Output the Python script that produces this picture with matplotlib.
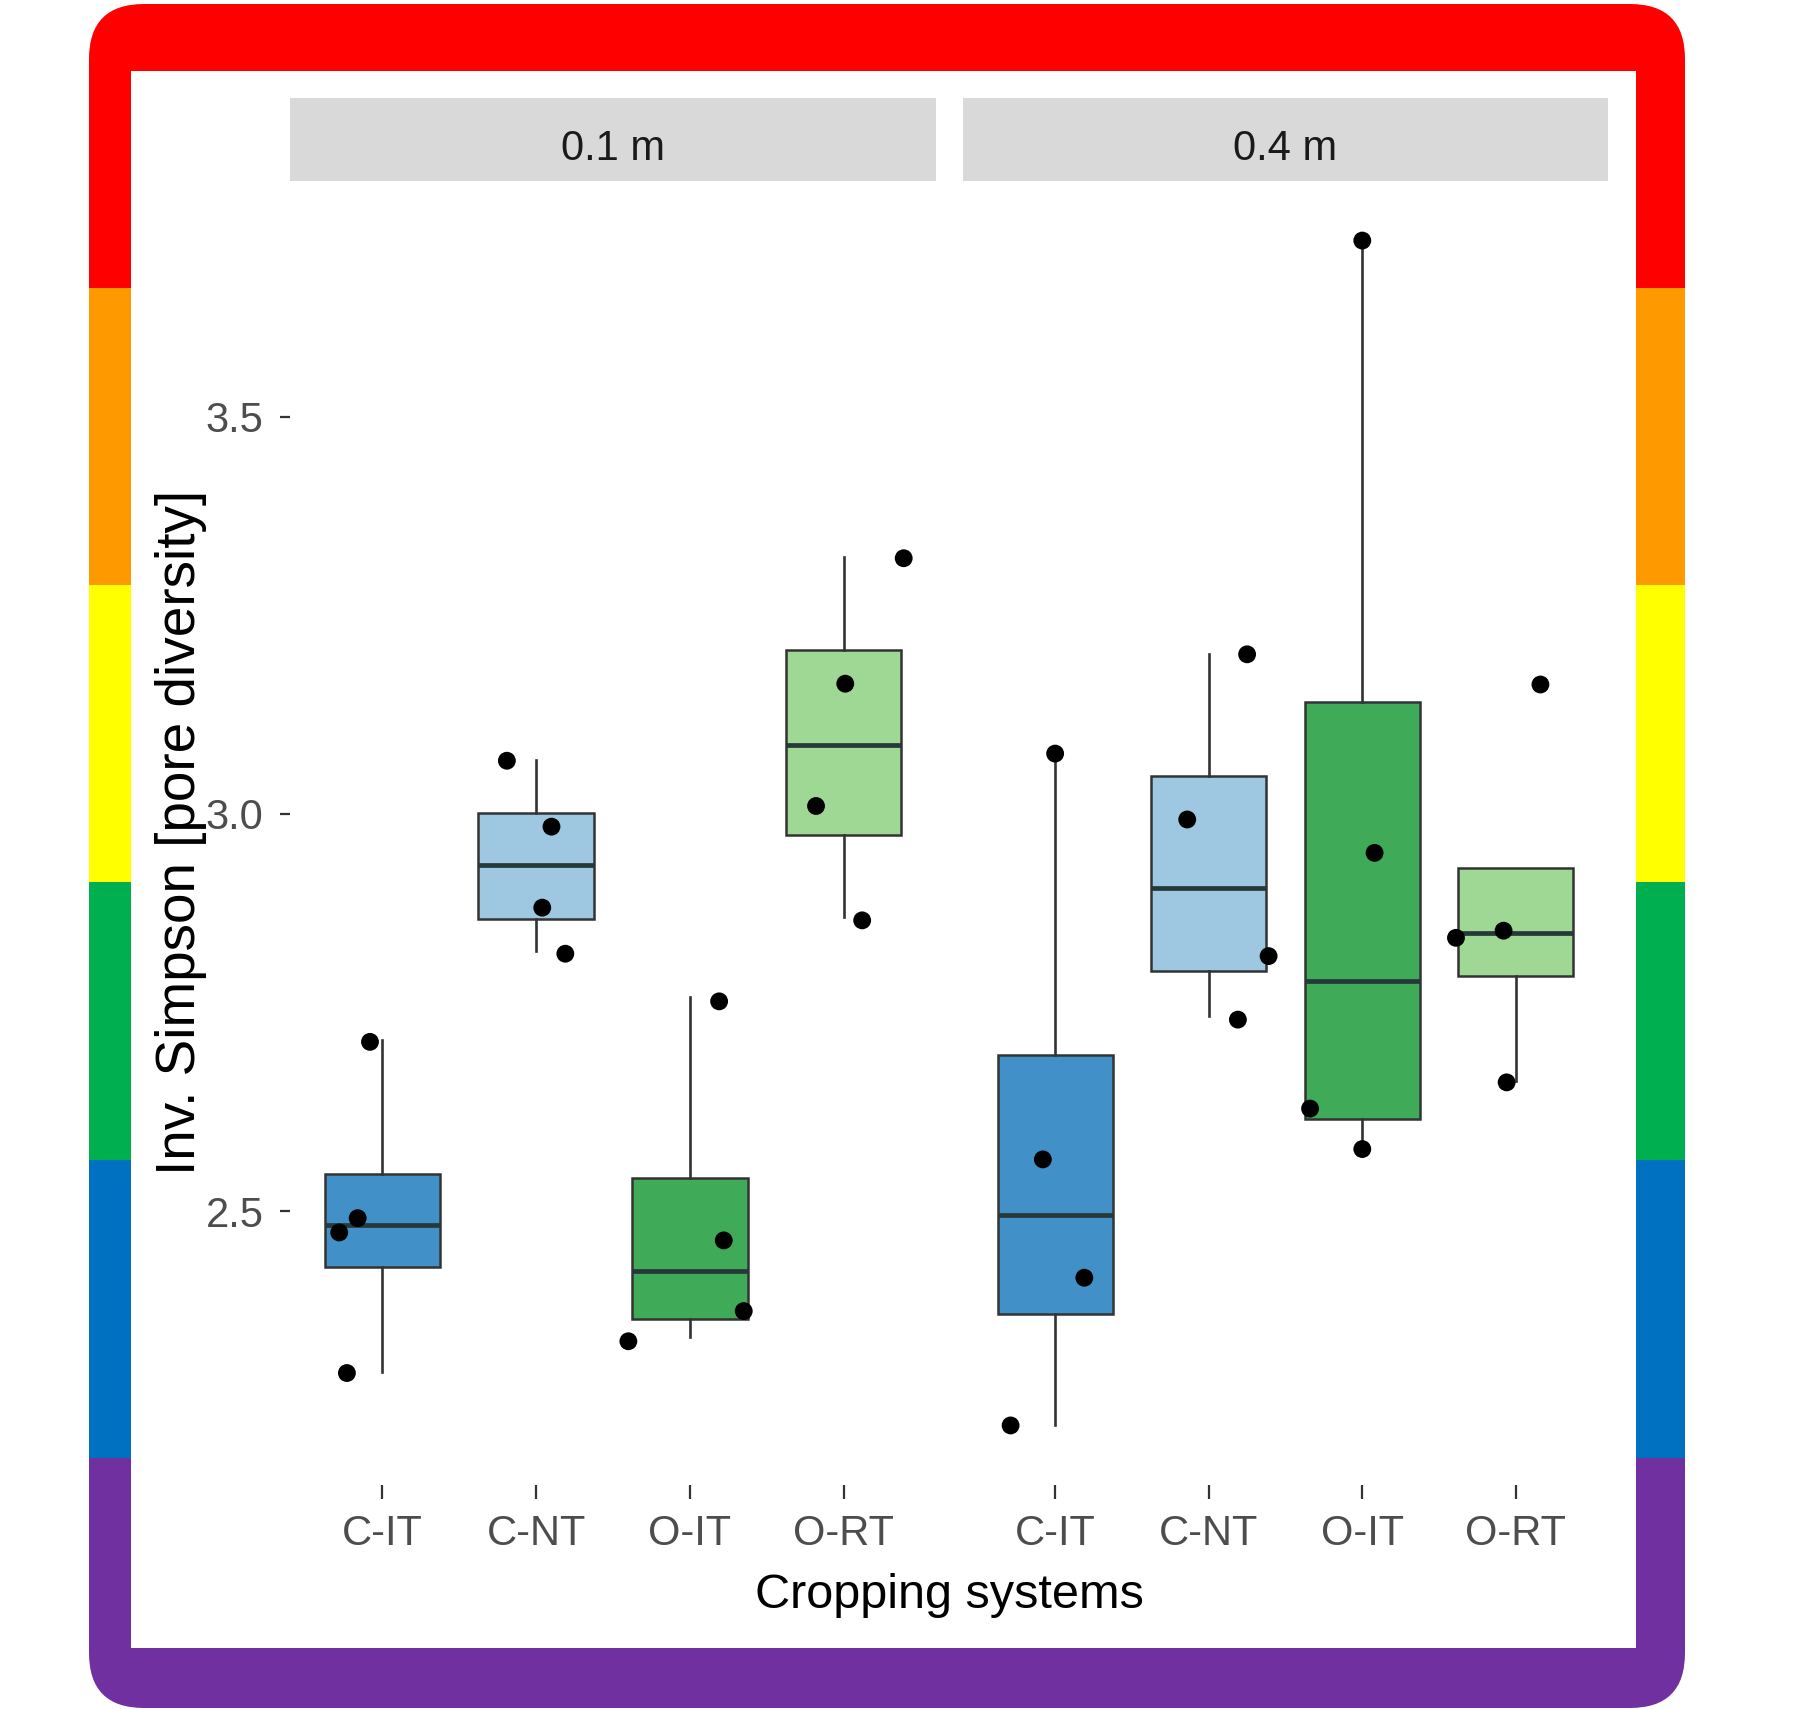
import numpy as np
import matplotlib.pyplot as plt
from matplotlib.patches import FancyBboxPatch, Rectangle

# ---- data ----
groups = ['C-IT', 'C-NT', 'O-IT', 'O-RT']
depths = ['0.1 m', '0.4 m']
box_colors = ['#4190C8', '#9EC8E2', '#3FAA58', '#9FD895']

# box statistics, one value per group
q1_01 = [2.429, 2.868, 2.364, 2.974]
med_01 = [2.483, 2.936, 2.424, 3.087]
q3_01 = [2.546, 3.001, 2.541, 3.207]
lo_01 = [2.297, 2.827, 2.341, 2.870]
hi_01 = [2.715, 3.068, 2.770, 3.323]

q1_04 = [2.370, 2.802, 2.616, 2.796]
med_04 = [2.495, 2.907, 2.790, 2.850]
q3_04 = [2.696, 3.048, 3.141, 2.932]
lo_04 = [2.231, 2.745, 2.578, 2.664]
hi_04 = [3.076, 3.202, 3.722, 2.932]

# jittered raw points (values and horizontal jitter)
pts_01 = [[2.713, 2.491, 2.473, 2.296],
          [3.067, 2.984, 2.882, 2.824],
          [2.764, 2.463, 2.374, 2.336],
          [3.322, 3.164, 3.010, 2.866]]
jit_01 = [[-0.08, -0.16, -0.28, -0.23],
          [-0.19, 0.10, 0.04, 0.19],
          [0.19, 0.22, 0.35, -0.40],
          [0.39, 0.01, -0.18, 0.12]]
pts_04 = [[3.076, 2.565, 2.416, 2.230],
          [3.201, 2.993, 2.821, 2.741],
          [3.722, 2.951, 2.629, 2.578],
          [3.163, 2.853, 2.844, 2.662]]
jit_04 = [[0.00, -0.08, 0.19, -0.29],
          [0.25, -0.14, 0.39, 0.19],
          [0.00, 0.08, -0.34, 0.00],
          [0.16, -0.08, -0.39, -0.06]]

y_ticks = [2.5, 3.0, 3.5]
x_title = 'Cropping systems'
y_title = 'Inv. Simpson [pore diversity]'

band_colors = ['#FF0000', '#FF9900', '#FFFF00', '#00B050', '#0070C0', '#7030A0']

narrow = ['Liberation Sans Narrow', 'Liberation Sans', 'DejaVu Sans']
plt.rcParams['font.family'] = ['Liberation Sans', 'DejaVu Sans']

W, H = 1805, 1709
fig = plt.figure(figsize=(W / 100, H / 100), dpi=100)
fig.patch.set_facecolor('white')

# ---- rainbow frame, drawn in pixel coords ----
bg = fig.add_axes([0, 0, 1, 1], zorder=-1)
bg.set_xlim(0, W)
bg.set_ylim(H, 0)
bg.axis('off')

frame = FancyBboxPatch((89, 4), 1596, 1704, boxstyle='round,pad=0,rounding_size=55',
                       facecolor='none', edgecolor='none')
bg.add_patch(frame)
edges = [4, 288, 585, 882, 1160, 1458, 1708]
for i, c in enumerate(band_colors):
    r = Rectangle((89, edges[i]), 1596, edges[i + 1] - edges[i], facecolor=c, edgecolor='none')
    bg.add_patch(r)
    r.set_clip_path(frame)
bg.add_patch(Rectangle((131, 71), 1505, 1577, facecolor='white', edgecolor='none'))

# facet strips
strips = [(290, 646), (963, 645)]
for (sx, sw), lab in zip(strips, depths):
    bg.add_patch(Rectangle((sx, 98), sw, 83, facecolor='#D9D9D9', edgecolor='none'))
    bg.text(sx + sw / 2, 149, lab, ha='center', va='center', fontsize=30,
            color='#1A1A1A', family=narrow)

# ---- panels ----
def make_stats(q1, med, q3, lo, hi):
    out = []
    for a, b, c, d, e in zip(q1, med, q3, lo, hi):
        out.append(dict(q1=a, med=b, q3=c, whislo=d, whishi=e, fliers=[]))
    return out

panels = [
    (make_stats(q1_01, med_01, q3_01, lo_01, hi_01), pts_01, jit_01),
    (make_stats(q1_04, med_04, q3_04, lo_04, hi_04), pts_04, jit_04),
]
lefts = [290 / W, 963 / W]
widths = [646 / W, 645 / W]

for k, (stats, pts, jit) in enumerate(panels):
    ax = fig.add_axes([lefts[k], 224 / H, widths[k], 1304 / H])
    ax.set_facecolor('none')
    pos = np.arange(1, len(groups) + 1)
    bp = ax.bxp(stats, positions=pos, widths=0.75, patch_artist=True, showcaps=False,
                showfliers=False,
                boxprops=dict(edgecolor='#333333', linewidth=1.8),
                whiskerprops=dict(color='#333333', linewidth=1.9),
                medianprops=dict(color='#263838', linewidth=3.4))
    for patch, c in zip(bp['boxes'], box_colors):
        patch.set_facecolor(c)
    for i in range(len(groups)):
        ax.scatter(pos[i] + np.array(jit[i]), pts[i], s=165, color='black',
                   edgecolors='none', zorder=5)

    ax.set_xlim(0.4, 4.6)
    ax.set_ylim(2.155, 3.797)
    for s in ax.spines.values():
        s.set_visible(False)
    ax.set_xticks(pos)
    ax.set_xticklabels(groups, family=narrow, fontsize=30, color='#4D4D4D')
    ax.tick_params(axis='x', length=10, width=1.6, color='#333333', pad=11)
    if k == 0:
        ax.set_yticks(y_ticks)
        ax.set_yticklabels(['%.1f' % v for v in y_ticks], family=narrow,
                           fontsize=30, color='#4D4D4D')
        ax.tick_params(axis='y', length=7, width=1.6, color='#333333', pad=12)
    else:
        ax.set_yticks([])

fig.text(949 / W, 1 - 1596 / H, x_title, ha='center', va='center', fontsize=35)
fig.text(181 / W, 1 - 832 / H, y_title, ha='center', va='center', rotation=90, fontsize=39.5)

fig.savefig('out.png', dpi=100)
